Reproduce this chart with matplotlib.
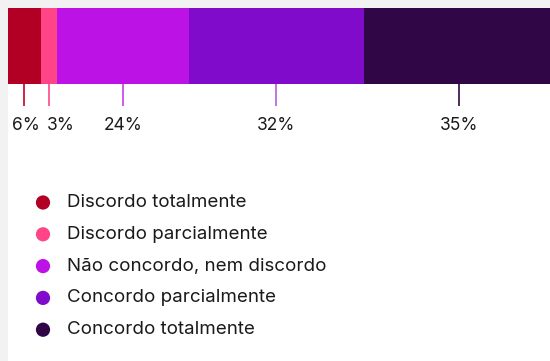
import matplotlib
matplotlib.use("Agg")
import matplotlib.pyplot as plt
import matplotlib.transforms as mtrans
import numpy as np

categories = ["Discordo totalmente", "Discordo parcialmente",
              "Não concordo, nem discordo", "Concordo parcialmente",
              "Concordo totalmente"]
values = [6, 3, 24, 32, 35]
labels = ["6%", "3%", "24%", "32%", "35%"]
colors = ["#b10023", "#ff4587", "#bc12e6", "#800bcb", "#300646"]
tick_colors = ["#c4002a", "#ff4587", "#c63fe8", "#b35fe0", "#300646"]
label_nudge_px = [2, 12, 0, 0, 0]

plt.rcParams['font.family'] = ['Inter', 'DejaVu Sans']

W, H = 550, 361
fig = plt.figure(figsize=(W / 100, H / 100), dpi=100, facecolor="#f2f2f2")

# main axes: pixel region x 8..550, y 8..361
ax = fig.add_axes([8 / W, 0, (W - 8) / W, (H - 8) / H])
ax.set_xlim(0, 100 * (W - 8) / 547)
ax.set_ylim(H - 8, 0)
ax.axis("off")
ax.add_patch(plt.Rectangle((0, 0), 1, 1, transform=ax.transAxes,
                           facecolor="white", edgecolor="none", zorder=0))

lefts = np.concatenate([[0], np.cumsum(values)[:-1]])
ax.barh([38], values, left=lefts, height=76, color=colors, linewidth=0, zorder=2)

mids = lefts + np.array(values) / 2
ax.vlines(mids, 76, 98, colors=tick_colors, linewidth=1.2, zorder=2)
for m, lab, dx in zip(mids, labels, label_nudge_px):
    tr = ax.transData + mtrans.ScaledTranslation(dx / 100, 0, fig.dpi_scale_trans)
    ax.text(m, 118, lab, ha="center", va="center", fontsize=12.5,
            color="#1a1a1a", transform=tr)

# legend in pixel coordinates
lax = fig.add_axes([0, 0, 1, 1])
lax.set_xlim(0, W)
lax.set_ylim(H, 0)
lax.axis("off")
lax.patch.set_alpha(0)
row_y = 202.5 + 31.8 * np.arange(len(categories))
lax.scatter(np.full(len(categories), 43), row_y, s=105, c=colors, linewidths=0)
for yy, cat in zip(row_y, categories):
    lax.text(67, yy, cat, ha="left", va="center", fontsize=13.5,
             color="#1a1a1a")

fig.savefig("out.png", dpi=100, facecolor=fig.get_facecolor())
